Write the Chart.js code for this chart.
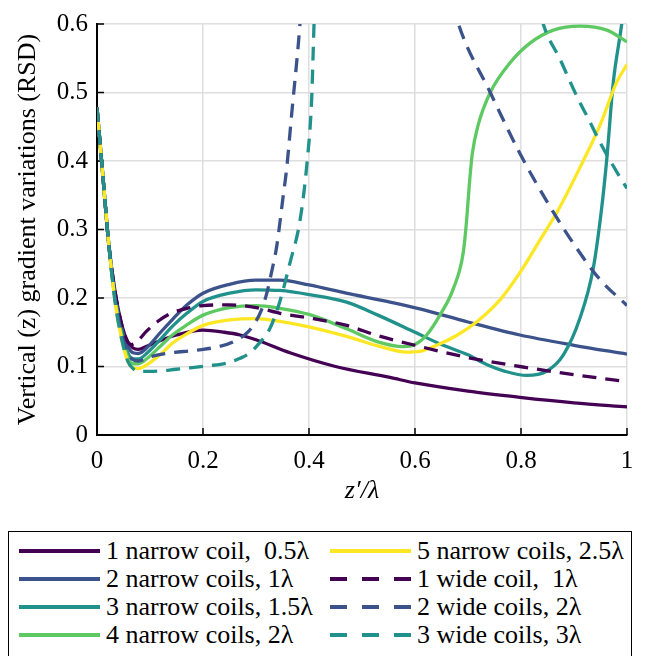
<!DOCTYPE html>
<html>
<head>
<meta charset="utf-8">
<script src="https://cdn.jsdelivr.net/npm/chart.js@4.4.0/dist/chart.umd.min.js"></script>
<style>
body{margin:0;background:#fff;width:648px;height:656px;overflow:hidden;position:relative;font-family:"Liberation Serif",serif;}
#wrap{position:absolute;left:0;top:0;width:648px;height:520px;}
#legend{position:absolute;left:8px;top:531px;width:624px;height:140px;border:1.5px solid #000;box-sizing:border-box;background:#fff;}
.item{position:absolute;height:28px;width:300px;}
.item svg{position:absolute;left:0;top:0;}
.item span{position:absolute;left:87px;top:0;line-height:28px;font-size:26px;white-space:pre;color:#000;}
</style>
</head>
<body>
<div id="wrap"><canvas id="chart" width="648" height="520"></canvas></div>
<div id="legend"></div>
<script>
// [z'/lambda, RSD], null y = curve leaves the plot
const narrow1 = [[0,0.478],[0.012,0.37],[0.022,0.28],[0.034,0.21],[0.047,0.16],[0.058,0.136],[0.068,0.127],[0.078,0.125],[0.095,0.13],[0.12,0.138],[0.15,0.146],[0.2,0.153],[0.24,0.15],[0.27,0.146],[0.3,0.139],[0.364,0.12],[0.45,0.1],[0.553,0.084],[0.6,0.076],[0.7,0.064],[0.798,0.055],[0.9,0.047],[1,0.041]];
const narrow2 = [[0,0.478],[0.012,0.37],[0.022,0.28],[0.034,0.205],[0.047,0.155],[0.058,0.13],[0.068,0.12],[0.078,0.119],[0.095,0.128],[0.12,0.15],[0.144,0.17],[0.17,0.19],[0.2,0.207],[0.25,0.22],[0.3,0.226],[0.345,0.226],[0.4,0.219],[0.47,0.207],[0.553,0.194],[0.609,0.184],[0.7,0.165],[0.798,0.146],[0.9,0.131],[1,0.118]];
const narrow3 = [[0,0.478],[0.012,0.37],[0.022,0.28],[0.034,0.2],[0.047,0.148],[0.058,0.12],[0.068,0.111],[0.078,0.111],[0.095,0.12],[0.12,0.14],[0.144,0.16],[0.17,0.178],[0.2,0.195],[0.25,0.207],[0.3,0.212],[0.345,0.211],[0.4,0.205],[0.471,0.194],[0.53,0.175],[0.6,0.15],[0.65,0.132],[0.7,0.117],[0.735,0.103],[0.77,0.093],[0.811,0.087],[0.848,0.093],[0.88,0.117],[0.911,0.17],[0.936,0.242],[0.952,0.33],[0.962,0.404],[0.974,0.514],[0.99,0.6],[0.996,0.64]];
const narrow4 = [[0,0.478],[0.012,0.37],[0.022,0.28],[0.034,0.198],[0.047,0.143],[0.058,0.114],[0.068,0.104],[0.078,0.104],[0.095,0.112],[0.12,0.13],[0.144,0.147],[0.17,0.161],[0.2,0.175],[0.25,0.186],[0.3,0.189],[0.345,0.185],[0.4,0.176],[0.471,0.155],[0.53,0.136],[0.578,0.129],[0.6,0.132],[0.622,0.146],[0.647,0.175],[0.672,0.213],[0.691,0.266],[0.697,0.31],[0.703,0.37],[0.708,0.41],[0.719,0.452],[0.742,0.5],[0.779,0.543],[0.817,0.572],[0.861,0.591],[0.911,0.597],[0.962,0.591],[1,0.574]];
const narrow5 = [[0,0.478],[0.012,0.37],[0.022,0.28],[0.034,0.195],[0.047,0.138],[0.058,0.108],[0.068,0.098],[0.078,0.097],[0.095,0.103],[0.12,0.118],[0.144,0.135],[0.17,0.148],[0.2,0.16],[0.25,0.168],[0.3,0.17],[0.345,0.166],[0.4,0.158],[0.471,0.144],[0.53,0.13],[0.584,0.121],[0.609,0.122],[0.641,0.131],[0.68,0.146],[0.716,0.165],[0.76,0.197],[0.798,0.237],[0.84,0.29],[0.87,0.328],[0.911,0.39],[0.949,0.452],[0.98,0.514],[1,0.541]];
const wide1 = [[0,0.478],[0.012,0.37],[0.022,0.28],[0.034,0.21],[0.047,0.16],[0.056,0.138],[0.065,0.132],[0.075,0.136],[0.094,0.152],[0.115,0.166],[0.138,0.177],[0.17,0.185],[0.2,0.189],[0.25,0.19],[0.3,0.186],[0.35,0.177],[0.4,0.171],[0.471,0.16],[0.53,0.145],[0.6,0.131],[0.7,0.113],[0.798,0.1],[0.9,0.088],[1,0.078]];
const wide2 = [[0,0.478],[0.012,0.37],[0.022,0.28],[0.034,0.2],[0.047,0.147],[0.058,0.12],[0.068,0.11],[0.078,0.108],[0.1,0.114],[0.13,0.119],[0.19,0.124],[0.23,0.129],[0.257,0.136],[0.28,0.147],[0.295,0.16],[0.31,0.182],[0.32,0.206],[0.33,0.24],[0.339,0.275],[0.351,0.347],[0.358,0.39],[0.367,0.466],[0.38,0.572],[0.386,0.63],[0.5,null],[0.672,0.63],[0.682,0.6],[0.742,0.5],[0.798,0.411],[0.855,0.333],[0.911,0.266],[0.949,0.227],[1,0.189]];
const wide3 = [[0,0.478],[0.012,0.37],[0.022,0.28],[0.034,0.195],[0.047,0.138],[0.058,0.108],[0.068,0.097],[0.078,0.093],[0.106,0.093],[0.15,0.096],[0.175,0.098],[0.21,0.101],[0.245,0.105],[0.27,0.112],[0.289,0.12],[0.305,0.133],[0.326,0.155],[0.345,0.195],[0.364,0.251],[0.383,0.313],[0.396,0.395],[0.405,0.49],[0.408,0.562],[0.411,0.64],[0.6,null],[0.83,0.64],[0.842,0.6],[0.874,0.548],[0.905,0.495],[0.93,0.457],[0.952,0.423],[0.987,0.376],[1,0.36]];

const seriesNames = ["1 narrow coil,  0.5λ","2 narrow coils, 1λ","3 narrow coils, 1.5λ","4 narrow coils, 2λ",
  "5 narrow coils, 2.5λ","1 wide coil,  1λ","2 wide coils, 2λ","3 wide coils, 3λ"];
const seriesColors = ["#440154","#3b528b","#21918c","#5ec962","#fde725","#440154","#3b528b","#21918c"];
const seriesDashed = [false,false,false,false,false,true,true,true];
const allSeries = [narrow1,narrow2,narrow3,narrow4,narrow5,wide1,wide2,wide3];

const xTickValues = [0,0.2,0.4,0.6,0.8,1];
const xTickLabels = ["0","0.2","0.4","0.6","0.8","1"];
const yTickValues = [0,0.1,0.2,0.3,0.4,0.5,0.6];
const yTickLabels = ["0","0.1","0.2","0.3","0.4","0.5","0.6"];

const FONT = "'Liberation Serif', 'Times New Roman', serif";
const DASH = [14,9];

// small inward tick marks like the original axes
const innerTicks = {
  id:"innerTicks",
  beforeDatasetsDraw(chart){
    const {ctx, chartArea:a, scales:{x,y}} = chart;
    ctx.save();
    ctx.strokeStyle="#000";
    ctx.lineWidth=1.5;
    ctx.beginPath();
    x.ticks.forEach(t=>{ const px=x.getPixelForValue(t.value); ctx.moveTo(px,a.bottom); ctx.lineTo(px,a.bottom-7); });
    y.ticks.forEach(t=>{ const py=y.getPixelForValue(t.value); ctx.moveTo(a.left,py); ctx.lineTo(a.left+7,py); });
    ctx.stroke();
    ctx.restore();
  }
};

new Chart(document.getElementById("chart"), {
  type:"scatter",
  data:{
    datasets: allSeries.map((s,i)=>({
      label: seriesNames[i],
      data: s.map(p=>({x:p[0], y:p[1]})),
      showLine:true,
      borderColor: seriesColors[i],
      backgroundColor: seriesColors[i],
      borderWidth:3.3,
      borderDash: seriesDashed[i] ? DASH : [],
      pointRadius:0,
      fill:false,
      cubicInterpolationMode:"monotone",
      spanGaps:false,
      clip:0,
      order: allSeries.length - i
    }))
  },
  options:{
    responsive:false,
    animation:false,
    events:[],
    layout:{ padding:{ left:0, top:17, right:21, bottom:0 } },
    plugins:{ legend:{ display:false }, tooltip:{ enabled:false } },
    scales:{
      x:{
        type:"linear", min:0, max:1,
        afterBuildTicks: s => { s.ticks = xTickValues.map(v=>({value:v})); },
        afterFit: s => { s.height = 85; },
        ticks:{ color:"#000", font:{ family:FONT, size:25 }, padding:11, maxRotation:0,
          callback:(v,i)=>xTickLabels[i] },
        grid:{ color:"#dedede", lineWidth:1.5, drawTicks:false },
        border:{ color:"#000", width:2 },
        title:{ display:true, text:"z′/λ", color:"#000", padding:{ top:0, bottom:13 },
          font:{ family:FONT, size:26, style:"italic" } }
      },
      y:{
        type:"linear", min:0, max:0.6,
        afterBuildTicks: s => { s.ticks = yTickValues.map(v=>({value:v})); },
        afterFit: s => { s.width = 97; },
        ticks:{ color:"#000", font:{ family:FONT, size:25 }, padding:9,
          callback:(v,i)=>yTickLabels[i] },
        grid:{ color:"#dedede", lineWidth:1.5, drawTicks:false },
        border:{ color:"#000", width:2 },
        title:{ display:true, text:"Vertical (z) gradient variations (RSD)", color:"#000",
          padding:{ top:13, bottom:0 }, font:{ family:FONT, size:26 } }
      }
    }
  },
  plugins:[innerTicks]
});

// legend box, two columns filled top to bottom
const legend = document.getElementById("legend");
seriesNames.forEach((name,i)=>{
  const col = i < 4 ? 0 : 1, row = i % 4;
  const item = document.createElement("div");
  item.className = "item";
  item.style.left = (col ? 321 : 10) + "px";
  item.style.top = (5 + row*28) + "px";
  const dash = seriesDashed[i] ? ' stroke-dasharray="17 15"' : '';
  item.innerHTML = '<svg width="81" height="28"><line x1="0" y1="14" x2="81" y2="14" stroke="' +
    seriesColors[i] + '" stroke-width="4"' + dash + '/></svg><span>' + name + '</span>';
  legend.appendChild(item);
});
</script>
</body>
</html>
